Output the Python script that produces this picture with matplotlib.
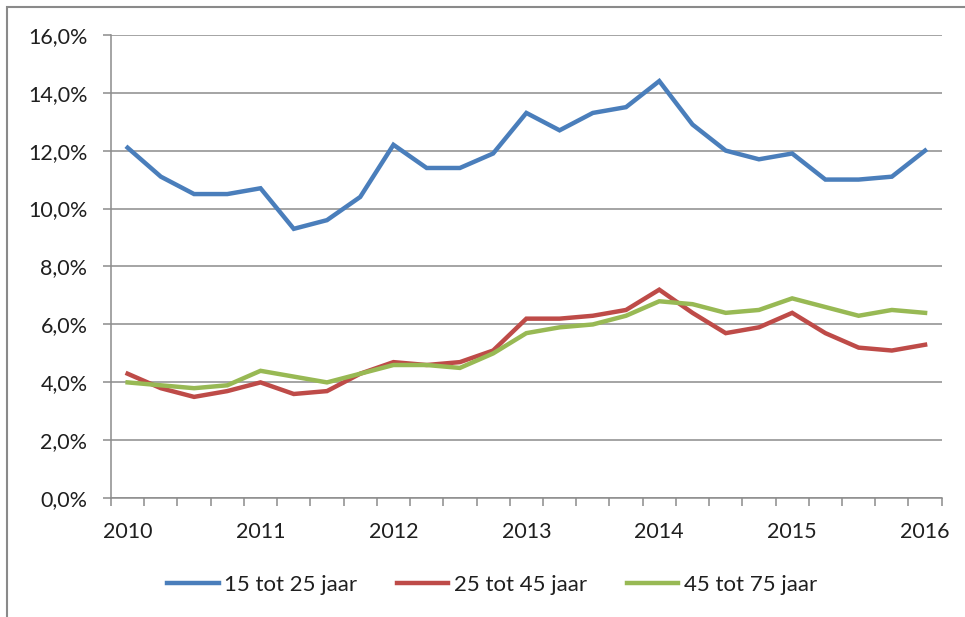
import matplotlib
matplotlib.use("Agg")
import matplotlib.pyplot as plt
from matplotlib.patches import Rectangle
from matplotlib.ticker import FuncFormatter

# quarterly values, 2010 Q1 .. 2016 Q1 (percent)
year_labels = ["2010", "2011", "2012", "2013", "2014", "2015", "2016"]
age_15_25 = [12.1, 11.1, 10.5, 10.5, 10.7, 9.3, 9.6, 10.4, 12.2, 11.4, 11.4, 11.9,
             13.3, 12.7, 13.3, 13.5, 14.4, 12.9, 12.0, 11.7, 11.9, 11.0, 11.0, 11.1, 12.0]
age_25_45 = [4.3, 3.8, 3.5, 3.7, 4.0, 3.6, 3.7, 4.3, 4.7, 4.6, 4.7, 5.1,
             6.2, 6.2, 6.3, 6.5, 7.2, 6.4, 5.7, 5.9, 6.4, 5.7, 5.2, 5.1, 5.3]
age_45_75 = [4.0, 3.9, 3.8, 3.9, 4.4, 4.2, 4.0, 4.3, 4.6, 4.6, 4.5, 5.0,
             5.7, 5.9, 6.0, 6.3, 6.8, 6.7, 6.4, 6.5, 6.9, 6.6, 6.3, 6.5, 6.4]
series_names = ["15 tot 25 jaar", "25 tot 45 jaar", "45 tot 75 jaar"]

COLORS = ["#4A7EBB", "#BE4B48", "#98B954"]
GRID = "#8C8C8C"
TEXT = "#1F1F1F"

plt.rcParams["font.family"] = ["Lato", "DejaVu Sans"]

fig = plt.figure(figsize=(9.65, 6.17), dpi=100)
ax = fig.add_axes([111 / 965, 1 - 498.3 / 617, (941.7 - 111) / 965, (498.3 - 34.7) / 617])

n = len(age_15_25)
x = list(range(n))
for values, name, color in zip([age_15_25, age_25_45, age_45_75], series_names, COLORS):
    ax.plot(x, values, color=color, linewidth=3.2, solid_joinstyle="miter", label=name)

ax.set_xlim(-0.5, n - 0.5)
ax.set_ylim(0, 16)
ax.set_yticks(range(0, 17, 2))
ax.yaxis.set_major_formatter(FuncFormatter(lambda v, _: f"{v:.1f}%".replace(".", ",")))
ax.grid(axis="y", color=GRID, linewidth=1.1)
ax.set_axisbelow(True)

# category boundaries get tick marks, labels sit at yearly category centres
ax.set_xticks([i - 0.5 for i in range(n + 1)], labels=[])
ax.set_xticks(x[::4], labels=year_labels, minor=True)
ax.tick_params(axis="x", which="major", length=6, width=1.1, color=GRID, direction="out")
ax.tick_params(axis="x", which="minor", length=0, pad=17, labelsize=15.5, labelcolor=TEXT)
ax.tick_params(axis="y", length=6, width=1.1, color=GRID, pad=11, labelsize=15.5, labelcolor=TEXT)

for side in ["top", "right"]:
    ax.spines[side].set_visible(False)
for side in ["left", "bottom"]:
    ax.spines[side].set_color(GRID)
    ax.spines[side].set_linewidth(1.1)

fig.legend(loc="center", bbox_to_anchor=(0.51, 1 - 585 / 617), ncol=3, frameon=False,
           fontsize=16, handlelength=2.3, handletextpad=0.25, columnspacing=1.8,
           labelcolor=TEXT)

# outer chart frame (left and top edges visible)
fig.patches.append(Rectangle((7 / 965, -0.1), 1.2, 1.1 - 7 / 617, transform=fig.transFigure,
                             fill=False, edgecolor="#8A8A8A", linewidth=1.5))

fig.savefig("out.png", dpi=100)
